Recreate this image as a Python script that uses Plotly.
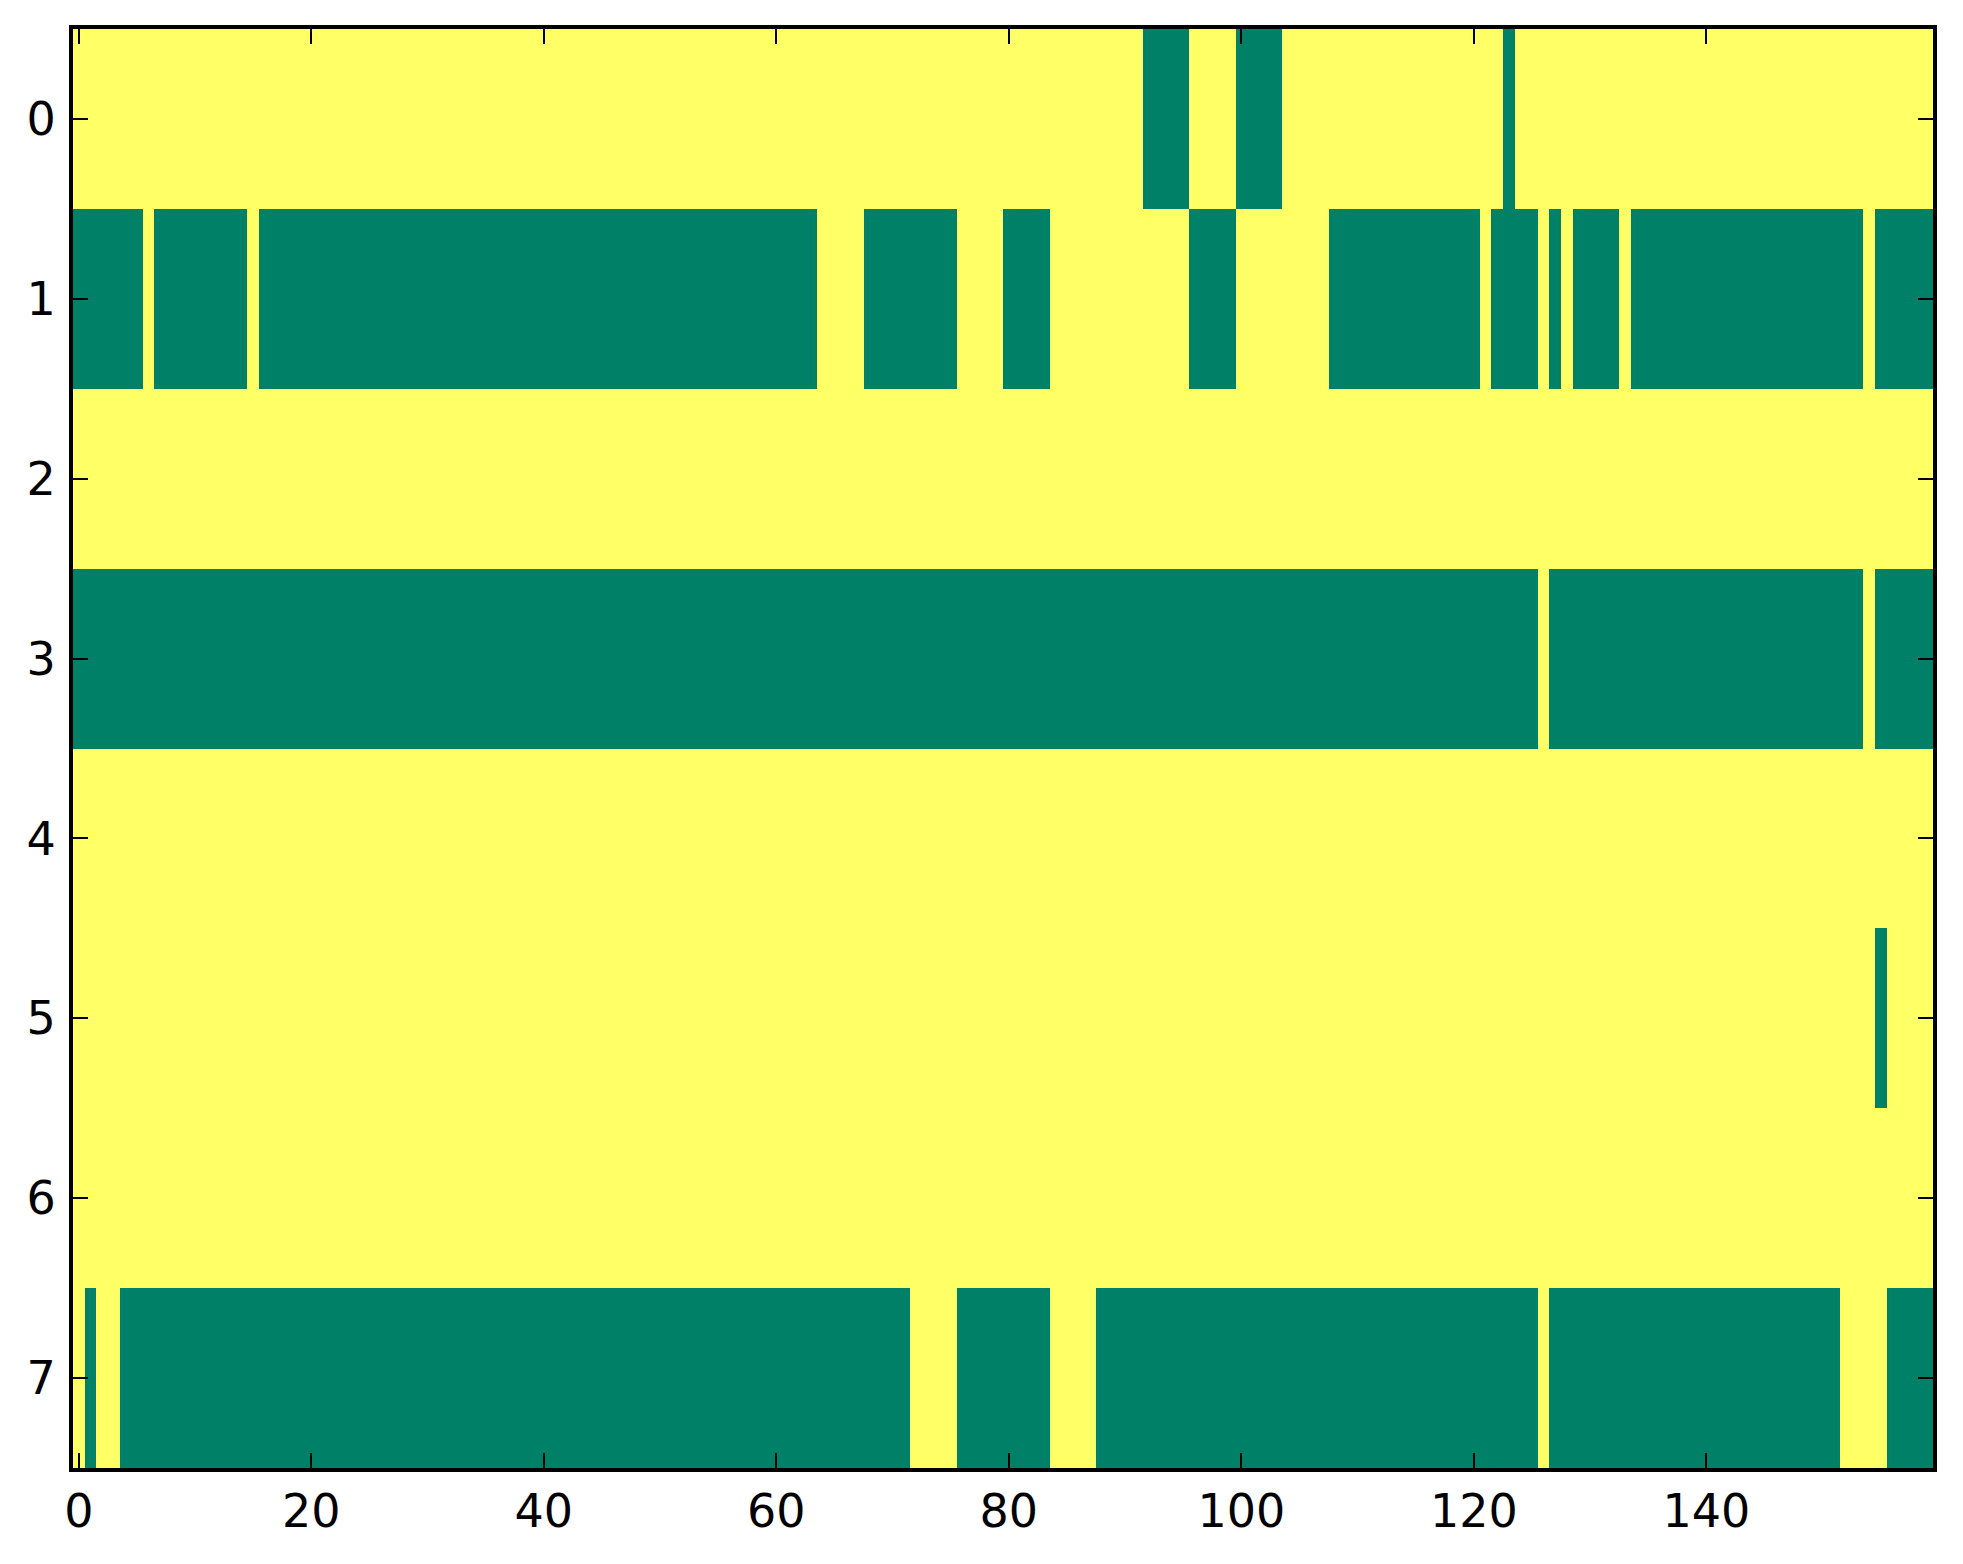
import numpy as np
import plotly.graph_objects as go

n_rows = 8
n_cols = 160

# green (value 0) runs per row, inclusive column ranges; everything else is 1 (yellow)
row0_zero = [(92, 95), (100, 103), (123, 123)]
row1_zero = [(0, 5), (7, 14), (16, 63), (68, 75), (80, 83), (96, 99), (108, 120),
             (122, 125), (127, 127), (129, 132), (134, 153), (155, 159)]
row2_zero = []
row3_zero = [(0, 125), (127, 153), (155, 159)]
row4_zero = []
row5_zero = [(155, 155)]
row6_zero = []
row7_zero = [(1, 1), (4, 71), (76, 83), (88, 125), (127, 151), (156, 159)]

rows_zero = [row0_zero, row1_zero, row2_zero, row3_zero,
             row4_zero, row5_zero, row6_zero, row7_zero]

x_ticks = [0, 20, 40, 60, 80, 100, 120, 140]
y_ticks = [0, 1, 2, 3, 4, 5, 6, 7]

z = np.ones((n_rows, n_cols))
for r, runs in enumerate(rows_zero):
    for a, b in runs:
        z[r, a:b + 1] = 0

fig = go.Figure(go.Heatmap(
    z=z,
    x=list(range(n_cols)),
    y=list(range(n_rows)),
    colorscale=[[0, '#008066'], [1, '#ffff66']],
    zmin=0, zmax=1,
    showscale=False,
    hoverinfo='skip',
))

axis_common = dict(
    showgrid=False, zeroline=False,
    showline=True, linecolor='black', linewidth=4, mirror='ticks',
    ticks='inside', ticklen=15, tickwidth=2, tickcolor='black',
    tickfont=dict(family='DejaVu Sans', size=46, color='black'),
)

fig.update_xaxes(range=[-0.5, n_cols - 0.5], tickvals=x_ticks,
                 ticktext=[str(t) for t in x_ticks], ticklabelstandoff=0,
                 **axis_common)
fig.update_yaxes(range=[n_rows - 0.5, -0.5], tickvals=y_ticks,
                 ticktext=[str(t) for t in y_ticks], ticklabelstandoff=4,
                 **axis_common)

fig.update_layout(
    width=1963, height=1564,
    margin=dict(l=65, r=38, t=21, b=104, pad=0),
    paper_bgcolor='white', plot_bgcolor='white',
)

fig.write_html("out.html")
